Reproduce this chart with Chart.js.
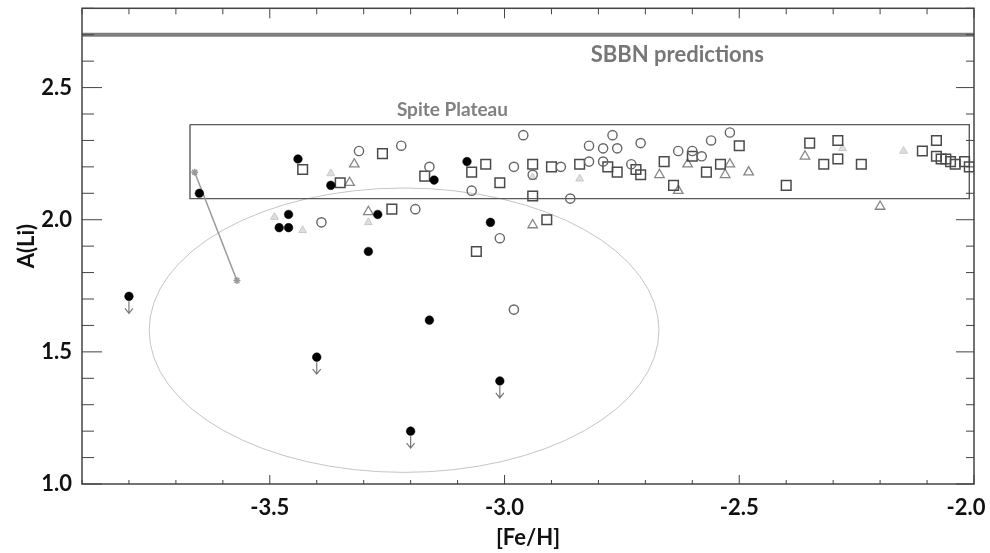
<!DOCTYPE html>
<html>
<head>
<meta charset="utf-8">
<title>A(Li) vs [Fe/H]</title>
<script src="https://cdn.jsdelivr.net/npm/chart.js@4.4.0/dist/chart.umd.min.js"></script>
<style>
	html, body { margin: 0; padding: 0; background: #fff; }
	#wrap { width: 990px; height: 553px; }
</style>
</head>
<body>
<div id="wrap"><canvas id="li-chart" width="990" height="553"></canvas></div>
<script>
// --- data ---
const detectX = [-3.65, -3.44, -3.37, -3.46, -3.48, -3.46, -3.29, -3.27, -3.03, -3.16, -3.08, -3.15];
const detectY = [2.10, 2.23, 2.13, 2.02, 1.97, 1.97, 1.88, 2.02, 1.99, 1.62, 2.22, 2.15];

// upper limits (filled dot with arrow)
const limitX = [-3.80, -3.40, -3.20, -3.01];
const limitY = [1.71, 1.48, 1.20, 1.39];

const circleX = [-3.31, -3.22, -3.39, -3.19, -2.96, -3.16, -2.98, -2.94, -2.88, -3.07, -2.86, -3.01, -2.82,
	-2.79, -2.77, -2.76, -2.71, -2.82, -2.79, -2.73, -2.98, -2.63, -2.60, -2.58, -2.56, -2.52];
const circleY = [2.26, 2.28, 1.99, 2.04, 2.32, 2.20, 2.20, 2.17, 2.20, 2.11, 2.08, 1.93, 2.28,
	2.27, 2.32, 2.27, 2.29, 2.22, 2.22, 2.21, 1.66, 2.26, 2.26, 2.24, 2.30, 2.33];

const squareX = [-3.43, -3.26, -3.35, -3.24, -3.17, -3.07, -3.04, -3.01, -2.94, -2.94, -2.90, -2.84, -2.78,
	-2.76, -2.72, -2.71, -2.91, -3.06, -2.66, -2.64, -2.60, -2.57, -2.54, -2.50, -2.40, -2.35, -2.32,
	-2.29, -2.29, -2.24, -2.08, -2.11, -2.08, -2.07, -2.06, -2.05, -2.04, -2.02, -2.01];
const squareY = [2.19, 2.25, 2.14, 2.04, 2.165, 2.18, 2.21, 2.14, 2.21, 2.09, 2.20, 2.21, 2.20,
	2.18, 2.19, 2.17, 2.00, 1.88, 2.22, 2.13, 2.24, 2.18, 2.21, 2.28, 2.13, 2.29, 2.21,
	2.23, 2.30, 2.21, 2.30, 2.26, 2.24, 2.23, 2.23, 2.22, 2.21, 2.22, 2.20];

const triangleX = [-3.32, -3.33, -3.29, -2.94, -2.67, -2.61, -2.63, -2.53, -2.52, -2.48, -2.36, -2.20];
const triangleY = [2.21, 2.14, 2.03, 1.98, 2.17, 2.21, 2.11, 2.17, 2.21, 2.18, 2.24, 2.05];

const faintX = [-3.37, -3.49, -3.43, -3.29, -2.84, -2.94, -2.15, -2.28];
const faintY = [2.175, 2.01, 1.96, 1.99, 2.155, 2.16, 2.26, 2.27];

const trackX = [-3.66, -3.57];
const trackY = [2.18, 1.77];

const sbbnX = [-3.9, -2.0];
const sbbnY = [2.70, 2.70];

const plateauX = [-3.67, -2.01, -2.01, -3.67, -3.67];
const plateauY = [2.36, 2.36, 2.08, 2.08, 2.36];

const ellipseCenter = [-3.214, 1.582];
const ellipseRadius = [0.543, 0.538];

const xTicks = [-3.5, -3.0, -2.5, -2.0];
const yTicks = [1.0, 1.5, 2.0, 2.5];

const pts = (xs, ys) => xs.map((x, i) => ({ x: x, y: ys[i] }));
const isMajor = (list, v) => list.some(t => Math.abs(t - v) < 1e-6);

const axisFont = { family: 'Lato', size: 22, weight: 'bold' };

// ellipse behind the points
const ellipsePlugin = {
	id: 'ellipse',
	beforeDatasetsDraw(chart) {
		const { ctx, scales: { x, y } } = chart;
		const cx = x.getPixelForValue(ellipseCenter[0]);
		const cy = y.getPixelForValue(ellipseCenter[1]);
		const rx = Math.abs(x.getPixelForValue(ellipseCenter[0] + ellipseRadius[0]) - cx);
		const ry = Math.abs(y.getPixelForValue(ellipseCenter[1] + ellipseRadius[1]) - cy);
		ctx.save();
		ctx.strokeStyle = '#c4c4c4';
		ctx.lineWidth = 1;
		ctx.beginPath();
		ctx.ellipse(cx, cy, rx, ry, 0, 0, Math.PI * 2);
		ctx.stroke();
		ctx.restore();
	}
};

// frame, inner tick marks, arrows and labels
const framePlugin = {
	id: 'frame',
	afterDatasetsDraw(chart) {
		const { ctx, chartArea: a, scales: { x, y } } = chart;
		ctx.save();

		// upper limit arrows
		const meta = chart.getDatasetMeta(1);
		ctx.strokeStyle = '#777';
		ctx.lineWidth = 1.2;
		meta.data.forEach(p => {
			ctx.beginPath();
			ctx.moveTo(p.x, p.y + 5);
			ctx.lineTo(p.x, p.y + 17);
			ctx.moveTo(p.x - 4, p.y + 12);
			ctx.lineTo(p.x, p.y + 17);
			ctx.lineTo(p.x + 4, p.y + 12);
			ctx.stroke();
		});

		ctx.strokeStyle = '#444';
		ctx.lineWidth = 1.5;
		ctx.strokeRect(a.left, a.top, a.right - a.left, a.bottom - a.top);

		ctx.lineWidth = 1;
		const seg = (x1, y1, x2, y2) => {
			ctx.beginPath();
			ctx.moveTo(x1, y1);
			ctx.lineTo(x2, y2);
			ctx.stroke();
		};
		x.ticks.forEach(t => {
			const px = x.getPixelForValue(t.value);
			const major = isMajor(xTicks, t.value);
			seg(px, a.bottom, px, a.bottom - (major ? 9 : 4));
			seg(px, a.top, px, a.top + (major ? 10 : 6));
		});
		y.ticks.forEach(t => {
			const py = y.getPixelForValue(t.value);
			const major = isMajor(yTicks, t.value);
			seg(a.left, py, a.left + (major ? 20 : 12), py);
			seg(a.right, py, a.right - (major ? 18 : 8), py);
		});

		ctx.textAlign = 'center';
		ctx.textBaseline = 'middle';
		ctx.fillStyle = '#777';
		ctx.font = 'bold 22px Lato';
		ctx.fillText('SBBN predictions', x.getPixelForValue(-2.632), y.getPixelForValue(2.624));
		ctx.fillStyle = '#808080';
		ctx.font = 'bold 19px Lato';
		ctx.fillText('Spite Plateau', x.getPixelForValue(-3.111), y.getPixelForValue(2.417));
		ctx.restore();
	}
};

new Chart(document.getElementById('li-chart'), {
	type: 'scatter',
	data: {
		datasets: [
			{
				label: 'detections',
				data: pts(detectX, detectY),
				pointStyle: 'circle',
				pointRadius: 4.3,
				backgroundColor: '#000',
				borderColor: '#000',
				borderWidth: 0.5
			},
			{
				label: 'upper limits',
				data: pts(limitX, limitY),
				pointStyle: 'circle',
				pointRadius: 4.3,
				backgroundColor: '#000',
				borderColor: '#000',
				borderWidth: 0.5
			},
			{
				label: 'circles',
				data: pts(circleX, circleY),
				pointStyle: 'circle',
				pointRadius: 4.6,
				backgroundColor: 'rgba(255,255,255,0)',
				borderColor: '#666',
				borderWidth: 1.4
			},
			{
				label: 'squares',
				data: pts(squareX, squareY),
				pointStyle: 'rect',
				pointRadius: 6.8,
				backgroundColor: 'rgba(255,255,255,0)',
				borderColor: '#4a4a4a',
				borderWidth: 1.5
			},
			{
				label: 'triangles',
				data: pts(triangleX, triangleY),
				pointStyle: 'triangle',
				pointRadius: 5.5,
				backgroundColor: 'rgba(255,255,255,0)',
				borderColor: '#858585',
				borderWidth: 1.3
			},
			{
				label: 'faint',
				data: pts(faintX, faintY),
				pointStyle: 'triangle',
				pointRadius: 4.5,
				backgroundColor: 'rgba(200,200,200,0.6)',
				borderColor: '#c8c8c8',
				borderWidth: 1
			},
			{
				type: 'line',
				label: 'track',
				data: pts(trackX, trackY),
				borderColor: '#9a9a9a',
				borderWidth: 1.5,
				pointStyle: 'star',
				pointRadius: 3.5,
				pointBorderColor: '#9a9a9a',
				pointBorderWidth: 1.5,
				showLine: true,
				fill: false
			},
			{
				type: 'line',
				label: 'SBBN',
				data: pts(sbbnX, sbbnY),
				borderColor: '#7e7e7e',
				borderWidth: 4,
				pointRadius: 0,
				showLine: true,
				fill: false
			},
			{
				type: 'line',
				label: 'Spite Plateau',
				data: pts(plateauX, plateauY),
				borderColor: '#5a5a5a',
				borderWidth: 1.4,
				pointRadius: 0,
				showLine: true,
				fill: false,
				tension: 0
			}
		]
	},
	options: {
		responsive: false,
		animation: false,
		devicePixelRatio: 1,
		layout: { padding: { top: 5, right: 16, left: 0, bottom: 0 } },
		plugins: {
			legend: { display: false },
			tooltip: { enabled: false }
		},
		scales: {
			x: {
				type: 'linear',
				min: -3.9,
				max: -2.0,
				ticks: {
					stepSize: 0.1,
					autoSkip: false,
					maxRotation: 0,
					padding: 11,
					color: '#111',
					font: axisFont,
					// the last label sits a little inside the frame, as in the figure
					callback: v => {
						if (!isMajor(xTicks, v)) return '';
						const last = Math.abs(v - xTicks[xTicks.length - 1]) < 1e-6;
						return v.toFixed(1) + (last ? '\u00a0\u00a0\u00a0' : '');
					}
				},
				grid: { display: false, drawTicks: false },
				border: { display: false },
				title: {
					display: true,
					text: '[Fe/H]',
					color: '#111',
					font: axisFont,
					padding: { top: 0, bottom: 2 }
				},
				afterFit: s => {
					s.height = 69;
					s.paddingLeft = 0;
					s.paddingRight = 0;
				}
			},
			y: {
				type: 'linear',
				min: 1.0,
				max: 2.8,
				ticks: {
					stepSize: 0.1,
					autoSkip: false,
					padding: 10,
					color: '#111',
					font: axisFont,
					callback: v => isMajor(yTicks, v) ? v.toFixed(1) : ''
				},
				grid: { display: false, drawTicks: false },
				border: { display: false },
				title: {
					display: true,
					text: 'A(Li)',
					color: '#111',
					font: axisFont,
					padding: { top: 14, bottom: 0 }
				},
				afterFit: s => {
					s.width = 82;
					s.paddingTop = 0;
					s.paddingBottom = 0;
				}
			}
		}
	},
	plugins: [ellipsePlugin, framePlugin]
});
</script>
</body>
</html>
